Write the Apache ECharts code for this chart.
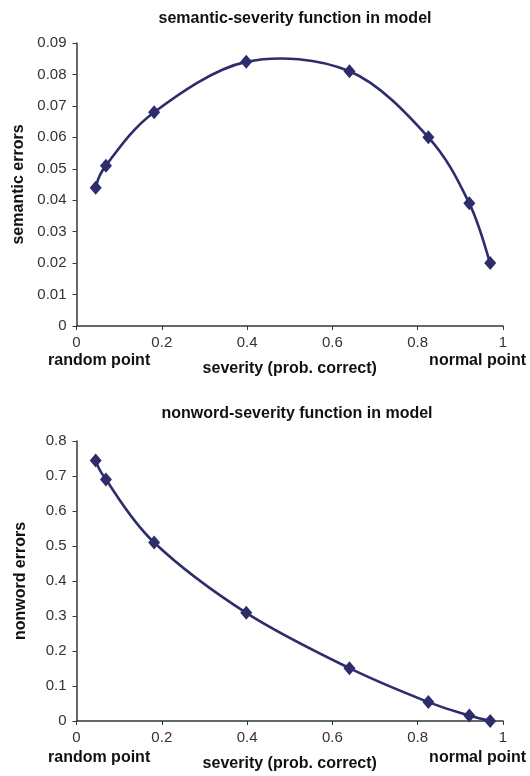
<!DOCTYPE html>
<html>
<head>
<meta charset="utf-8">
<script src="https://cdn.jsdelivr.net/npm/echarts@6/dist/echarts.min.js"></script>
<style>
  html, body { margin: 0; padding: 0; background: #fff; }
  #main { width: 530px; height: 776px; }
</style>
</head>
<body>
<div id="main"></div>
<script>
// severity (prob. correct) at each model point
var severity = [0.045, 0.069, 0.182, 0.398, 0.640, 0.825, 0.921, 0.970];
var semanticErrors = [0.044, 0.051, 0.068, 0.084, 0.081, 0.060, 0.039, 0.020];
var nonwordErrors = [0.744, 0.690, 0.510, 0.309, 0.151, 0.054, 0.016, 0.000];

function pairs(xs, ys) {
    var out = [];
    for (var i = 0; i < xs.length; i++) out.push([xs[i], ys[i]]);
    return out;
}

var font = "'Liberation Sans', Arial, sans-serif";
var lineColor = '#2e2d6b';
var axisColor = '#2b3a3a';
var textColor = '#333';

function xAxisFor(gridIndex) {
    return {
        gridIndex: gridIndex,
        type: 'value',
        min: 0, max: 1, interval: 0.2,
        name: 'severity (prob. correct)',
        nameLocation: 'middle',
        nameGap: 35,
        nameTextStyle: { fontFamily: font, fontWeight: 'bold', fontSize: 16, color: '#111' },
        axisLine: { lineStyle: { color: axisColor, width: 1.5 } },
        axisTick: { show: true, length: 4, lineStyle: { color: axisColor } },
        axisLabel: { fontFamily: font, fontSize: 15, color: textColor, margin: 9 },
        splitLine: { show: false }
    };
}

function yAxisFor(gridIndex, name, max, step) {
    return {
        gridIndex: gridIndex,
        type: 'value',
        min: 0, max: max, interval: step,
        name: name,
        nameLocation: 'middle',
        nameGap: 48,
        nameTextStyle: { fontFamily: font, fontWeight: 'bold', fontSize: 16, color: '#111' },
        axisLine: { show: true, lineStyle: { color: axisColor, width: 1.5 } },
        axisTick: { show: true, length: 4, lineStyle: { color: axisColor } },
        axisLabel: { fontFamily: font, fontSize: 15, color: textColor, margin: 10 },
        splitLine: { show: false }
    };
}

// smooth curve through the points (cardinal spline, like the spreadsheet's smoothed line)
function curveSeries(idx, values) {
    return {
        type: 'custom',
        xAxisIndex: idx,
        yAxisIndex: idx,
        data: pairs(severity, values),
        clip: false,
        silent: true,
        z: 2,
        renderItem: function (params, api) {
            if (params.dataIndex !== 0) return null;
            var p = [];
            for (var i = 0; i < severity.length; i++) {
                p.push(api.coord([severity[i], values[i]]));
            }
            var d = 'M' + p[0][0] + ',' + p[0][1];
            for (var j = 0; j < p.length - 1; j++) {
                var a = p[j - 1] || p[j], b = p[j], c = p[j + 1], e = p[j + 2] || p[j + 1];
                var c1x = b[0] + (c[0] - a[0]) / 6, c1y = b[1] + (c[1] - a[1]) / 6;
                var c2x = c[0] - (e[0] - b[0]) / 6, c2y = c[1] - (e[1] - b[1]) / 6;
                d += ' C' + c1x + ',' + c1y + ' ' + c2x + ',' + c2y + ' ' + c[0] + ',' + c[1];
            }
            return {
                type: 'path',
                shape: { pathData: d },
                style: { fill: null, stroke: lineColor, lineWidth: 2.6, lineJoin: 'round' }
            };
        },
        animation: false
    };
}

function markerSeries(idx, values) {
    return {
        type: 'scatter',
        xAxisIndex: idx,
        yAxisIndex: idx,
        data: pairs(severity, values),
        symbol: 'diamond',
        symbolSize: [12, 14],
        itemStyle: { color: lineColor, opacity: 1 },
        z: 3,
        animation: false
    };
}

function sideLabel(x, y, text, align) {
    return {
        type: 'text',
        left: align === 'left' ? x : null,
        right: align === 'right' ? x : null,
        top: y,
        style: { text: text, font: 'bold 16px ' + font, fill: '#111' }
    };
}

var chart = echarts.init(document.getElementById('main'));
chart.setOption({
    backgroundColor: '#fff',
    animation: false,
    title: [
        { text: 'semantic-severity function in model', left: 290, top: 6, textAlign: 'center',
          textStyle: { fontFamily: font, fontWeight: 'bold', fontSize: 16, color: '#111' } },
        { text: 'nonword-severity function in model', left: 292, top: 401, textAlign: 'center',
          textStyle: { fontFamily: font, fontWeight: 'bold', fontSize: 16, color: '#111' } }
    ],
    grid: [
        { left: 76.5, top: 43, width: 426.5, height: 283 },
        { left: 76.5, top: 441, width: 426.5, height: 280 }
    ],
    xAxis: [xAxisFor(0), xAxisFor(1)],
    yAxis: [
        yAxisFor(0, 'semantic errors', 0.09, 0.01),
        yAxisFor(1, 'nonword errors', 0.8, 0.1)
    ],
    series: [
        curveSeries(0, semanticErrors), markerSeries(0, semanticErrors),
        curveSeries(1, nonwordErrors), markerSeries(1, nonwordErrors)
    ],
    graphic: [
        sideLabel(48, 353, 'random point', 'left'),
        sideLabel(4, 353, 'normal point', 'right'),
        sideLabel(48, 750, 'random point', 'left'),
        sideLabel(4, 750, 'normal point', 'right')
    ]
});
</script>
</body>
</html>
